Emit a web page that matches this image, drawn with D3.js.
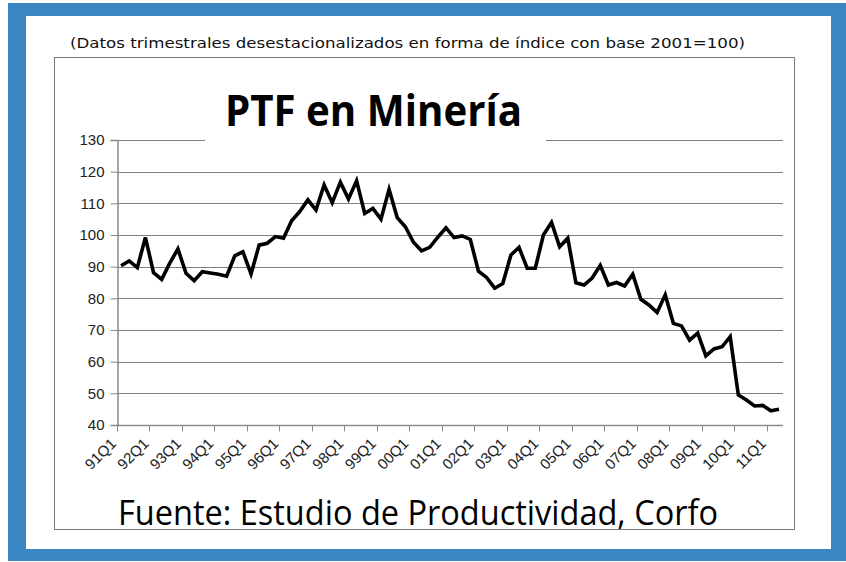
<!DOCTYPE html>
<html>
<head>
<meta charset="utf-8">
<script src="https://cdn.jsdelivr.net/npm/d3@7"></script>
<style>
  body { margin: 0; background: #ffffff; }
  svg { display: block; }
</style>
</head>
<body>
<script>
// Data
var year_labels = ['91','92','93','94','95','96','97','98','99','00',
  '01','02','03','04','05','06','07','08','09','10','11'];
var quarter_labels = ['Q1','Q2','Q3','Q4'];
var ptf_values = [
  90.3, 91.8, 89.7, 99.2, 88.1, 86.0, 91.1, 95.6, 87.9, 85.6,
  88.4, 88.0, 87.6, 87.0, 93.4, 94.7, 87.7, 96.8, 97.4, 99.5,
  99.0, 104.5, 107.4, 111.1, 107.9, 115.8, 110.2, 116.7, 111.4, 117.1,
  106.8, 108.4, 105.0, 114.4, 105.5, 102.6, 97.7, 95.0, 96.1, 99.3,
  102.3, 99.2, 99.7, 98.6, 88.6, 86.6, 83.2, 84.7, 93.7, 96.1,
  89.5, 89.5, 100.0, 104.0, 96.3, 99.0, 84.9, 84.2, 86.4, 90.4,
  84.2, 85.0, 83.9, 87.6, 79.7, 77.9, 75.5, 81.1, 72.1, 71.3,
  66.8, 69.0, 61.8, 64.0, 64.7, 67.9, 49.5, 47.9, 46.0, 46.2,
  44.5, 45.0
];
var y_ticks = [40, 50, 60, 70, 80, 90, 100, 110, 120, 130];

var subtitle_text = "(Datos trimestrales desestacionalizados en forma de índice con base 2001=100)";
var title_text = "PTF en Minería";
var source_text = "Fuente: Estudio de Productividad, Corfo";

// quarter categories, one per value
var categories = [];
for(i = 0; i < ptf_values.length; i ++){
  categories.push(year_labels[Math.floor(i/4)] + quarter_labels[i%4]);
}

var w = 846;
var h = 562;

var svg = d3.select("body").append("svg")
.attr("width", w)
.attr("height", h);

// blue frame + white card
svg.append("rect")
.attr("x", 8).attr("y", 3)
.attr("width", w - 8).attr("height", 558)
.style("fill", "#3a86c3");

svg.append("rect")
.attr("x", 26).attr("y", 16)
.attr("width", 805).attr("height", 533)
.style("fill", "#ffffff");

// subtitle
svg.append("text")
.attr("x", 70).attr("y", 48)
.attr("textLength", 675)
.attr("lengthAdjust", "spacingAndGlyphs")
.style("font-family", "'DejaVu Sans', sans-serif")
.style("font-size", "14px")
.style("fill", "#111")
.text(subtitle_text);

// chart box
svg.append("rect")
.attr("x", 54.5).attr("y", 57.5)
.attr("width", 740).attr("height", 472)
.style("fill", "none")
.style("stroke", "#7a7a7a")
.style("stroke-width", 1);

// scales
var x = d3.scaleBand()
.domain(categories)
.range([117, 783])
.paddingInner(0)
.paddingOuter(0);

var y = d3.scaleLinear()
.domain([40, 130])
.range([425, 140]);

// gridlines
svg.append("g")
.selectAll("line")
.data(y_ticks.filter(function(d){ return d > 40; }))
.enter()
.append("line")
.attr("x1", 117).attr("x2", 783)
.attr("y1", function(d){ return Math.round(y(d)) + 0.5; })
.attr("y2", function(d){ return Math.round(y(d)) + 0.5; })
.style("stroke", "#808080")
.style("stroke-width", 1);

// y axis
var y_axis = svg.append("g")
.attr("transform", "translate(117.5,0)")
.call(d3.axisLeft(y).tickValues(y_ticks).tickSize(7).tickPadding(6));
y_axis.select(".domain").style("stroke", "#8a8a8a").style("stroke-width", 1.5);
y_axis.selectAll(".tick line").style("stroke", "#8a8a8a");
y_axis.selectAll("text")
.style("font-family", "'Liberation Sans', Arial, sans-serif")
.style("font-size", "15px")
.style("fill", "#222");

// x axis (tick every 4 quarters, between categories)
var x_tick_cats = categories.filter(function(d, i){ return i % 4 == 0; });
var x_axis = svg.append("g")
.attr("transform", "translate(0,425.5)");
x_axis.append("line")
.attr("x1", 117).attr("x2", 783)
.style("stroke", "#8a8a8a")
.style("stroke-width", 1.5);
x_axis.selectAll("line.tk")
.data(x_tick_cats)
.enter()
.append("line")
.attr("class", "tk")
.attr("x1", function(d){ return Math.round(x(d)) + 0.5; })
.attr("x2", function(d){ return Math.round(x(d)) + 0.5; })
.attr("y1", 0).attr("y2", 6)
.style("stroke", "#8a8a8a");

// rotated labels, end of text near the category centre
var x_labels = x_axis.selectAll("g.lbl")
.data(x_tick_cats)
.enter()
.append("g")
.attr("class", "lbl")
.attr("transform", function(d){
  return "translate(" + (x(d) + x.bandwidth()/2 - 4) + ",19)";
});
x_labels.append("text")
.attr("transform", "rotate(-45)")
.attr("text-anchor", "end")
.style("font-family", "'Liberation Sans', Arial, sans-serif")
.style("font-size", "15px")
.style("fill", "#222")
.text(function(d){ return d; });

// line
var line = d3.line()
.x(function(d, i){ return x(categories[i]) + x.bandwidth()/2; })
.y(function(d){ return y(d); });

svg.append("path")
.datum(ptf_values)
.attr("d", line)
.style("fill", "none")
.style("stroke", "#000")
.style("stroke-width", 3.6)
.style("stroke-linejoin", "miter");

// title sits on a white box covering the top gridline
svg.append("rect")
.attr("x", 205).attr("y", 84)
.attr("width", 341).attr("height", 60)
.style("fill", "#ffffff");

svg.append("text")
.attr("x", 225).attr("y", 126)
.attr("textLength", 297)
.attr("lengthAdjust", "spacingAndGlyphs")
.style("font-family", "'Open Sans', 'Noto Sans', sans-serif")
.style("font-weight", "bold")
.style("font-size", "43px")
.style("fill", "#000")
.text(title_text);

// source
svg.append("text")
.attr("x", 118).attr("y", 525)
.attr("textLength", 600)
.attr("lengthAdjust", "spacingAndGlyphs")
.style("font-family", "'Open Sans', 'Noto Sans', sans-serif")
.style("font-size", "35px")
.style("fill", "#000")
.text(source_text);
</script>
</body>
</html>
